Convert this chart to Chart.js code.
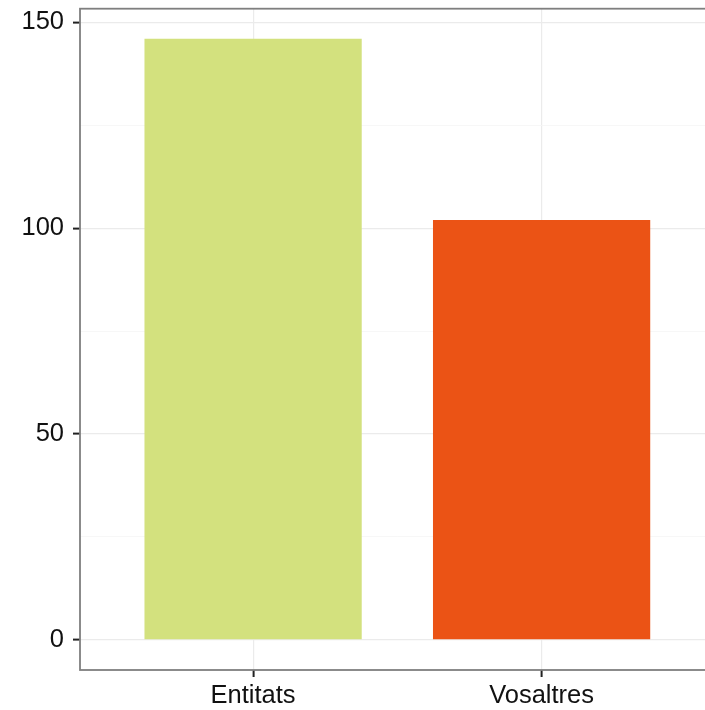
<!DOCTYPE html>
<html>
<head>
<meta charset="utf-8">
<script src="https://cdn.jsdelivr.net/npm/chart.js@4/dist/chart.umd.min.js"></script>
<style>
  html, body { margin: 0; padding: 0; background: #fff; overflow: hidden; }
  #wrap { width: 705px; height: 710px; overflow: hidden; position: relative; }
  canvas { display: block; }
</style>
</head>
<body>
<div id="wrap">
<canvas id="c" width="720" height="710" style="width:720px;height:710px"></canvas>
</div>
<script>
const categories = ["Entitats", "Vosaltres"];
const values = [146, 102];
const barColors = ["#D3E17E", "#EB5315"];
const yTicks = [0, 25, 50, 75, 100, 125, 150];
const yMajor = [0, 50, 100, 150];

const FONT = { family: "'Liberation Sans', Arial, Helvetica, sans-serif", size: 25.5 };

const panelBorder = {
  id: 'panelBorder',
  afterDraw(chart) {
    const a = chart.chartArea, ctx = chart.ctx;
    ctx.save();
    ctx.strokeStyle = '#7f7f7f';
    ctx.lineWidth = 1.8;
    ctx.strokeRect(a.left, a.top, a.right - a.left, a.bottom - a.top);
    ctx.restore();
  }
};

const isMajor = v => yMajor.indexOf(v) !== -1;
const zeroPad = s => { s.paddingTop = 0; s.paddingBottom = 0; s.paddingLeft = 0; s.paddingRight = 0; };

new Chart(document.getElementById('c'), {
  type: 'bar',
  data: {
    datasets: [{
      data: categories.map((c, i) => ({ x: i + 1, y: values[i] })),
      backgroundColor: barColors,
      borderWidth: 0,
      categoryPercentage: 1,
      barPercentage: 0.753
    }]
  },
  options: {
    responsive: false,
    animation: false,
    devicePixelRatio: 1,
    layout: { padding: { top: 8.7, right: 5.3, left: 0, bottom: 0 } },
    plugins: { legend: { display: false }, tooltip: { enabled: false } },
    scales: {
      x: {
        type: 'linear',
        offset: false,
        min: 0.4,
        max: 2.6,
        afterBuildTicks: s => { s.ticks = categories.map((c, i) => ({ value: i + 1 })); },
        afterFit: s => { s.height = 40; zeroPad(s); },
        ticks: {
          callback: v => categories[Math.round(v) - 1] || '',
          font: FONT, color: '#111', padding: 4, maxRotation: 0, autoSkip: false
        },
        grid: { offset: false, color: '#ebebeb', lineWidth: 1.2, tickLength: 7, tickColor: '#222', tickWidth: 2 },
        border: { display: false }
      },
      y: {
        min: -7.3,
        max: 153.3,
        afterBuildTicks: s => { s.ticks = yTicks.map(v => ({ value: v })); },
        afterFit: s => { s.width = 80; zeroPad(s); },
        ticks: {
          callback: v => isMajor(v) ? String(v) : '',
          font: FONT, color: '#111', padding: 9, autoSkip: false
        },
        grid: {
          color: ctx => isMajor(ctx.tick.value) ? '#ebebeb' : '#f5f5f5',
          lineWidth: ctx => isMajor(ctx.tick.value) ? 1.2 : 0.8,
          tickLength: 7,
          tickColor: ctx => isMajor(ctx.tick.value) ? '#222' : 'rgba(0,0,0,0)',
          tickWidth: 2
        },
        border: { display: false }
      }
    }
  },
  plugins: [panelBorder]
});
</script>
</body>
</html>
